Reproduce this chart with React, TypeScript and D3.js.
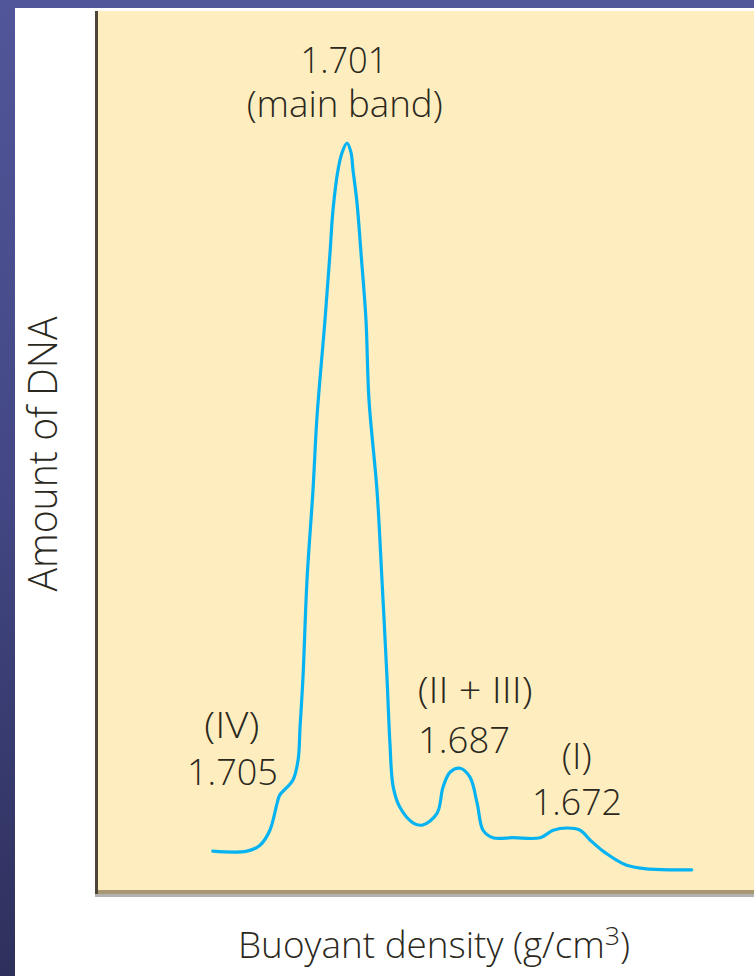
import React from "react";
import * as d3 from "d3";

// Densitometer trace: position along the gradient (arbitrary units, left = heavier) vs amount of DNA (relative)
const gradientPos = [17.5, 22.7, 24.7, 26.2, 27.3, 27.7, 29.7, 30.5, 30.8, 31.25, 31.86, 32.77, 33.38, 34.6, 35.37, 35.82, 36.59, 37.2, 37.96, 38.57, 38.87, 39.48, 40.09, 40.85, 41.31, 42.53, 43.29, 44.05, 44.5, 45.0, 46.0, 48.0, 49.5, 51.7, 52.6, 53.7, 55.2, 56.7, 57.8, 58.7, 60.2, 63.3, 67.4, 69.4, 71.5, 73.5, 75.0, 77.3, 80.6, 84.1, 90.5];
const dnaAmount = [5.2, 5.2, 6.0, 8.0, 11.6, 12.7, 14.7, 17.4, 21.8, 28.5, 41.5, 53.5, 63.3, 76.3, 85.3, 91.0, 96.4, 98.7, 100, 98.7, 96.4, 92.0, 85.3, 76.3, 65.6, 53.5, 41.5, 28.5, 19.7, 13.8, 11.1, 9.0, 8.7, 10.3, 13.8, 15.8, 16.3, 15.1, 11.6, 8.0, 7.0, 7.0, 7.0, 8.0, 8.3, 8.0, 6.7, 5.0, 3.3, 2.8, 2.7];

// Band annotations
const annLabels = ["1.701", "(main band)", "(IV)", "1.705", "(II + III)", "1.687", "(I)", "1.672"];
const annX = [37.5, 37.6, 20.4, 20.5, 57.5, 55.8, 73.0, 73.0];
const annY = [109.4, 103.5, 20.3, 14.1, 25.0, 18.3, 16.2, 10.0];
const annWidth = [87, 196, 55, 91, 115, 92, 30, 90];

const xTitle = "Buoyant density (g/cm";
const xTitleSup = "3";
const yTitle = "Amount of DNA";

const W = 754;
const H = 976;
const panel = { left: 98, top: 11, right: 754, bottom: 890 };

export default function App() {
  const x = d3.scaleLinear().domain([0, 100]).range([panel.left, panel.left + 656]);
  const y = d3.scaleLinear().domain([0, 100]).range([panel.bottom, 143]);
  const pts: [number, number][] = gradientPos.map((g, i) => [g, dnaAmount[i]]);
  const line = d3
    .line<[number, number]>()
    .x((d) => x(d[0]))
    .y((d) => y(d[1]))
    .curve(d3.curveCatmullRom.alpha(0.5));
  const font = "'Open Sans', 'Liberation Sans', Arial, sans-serif";
  const textColor = "#2a2820";

  return (
    <svg
      width={W}
      height={H}
      style={{ position: "absolute", left: 0, top: 0, display: "block" }}
      xmlns="http://www.w3.org/2000/svg"
    >
      <defs>
        <linearGradient id="edge" x1="0" y1="0" x2="0" y2="1">
          <stop offset="0" stopColor="#505699" />
          <stop offset="0.5" stopColor="#434784" />
          <stop offset="1" stopColor="#2e305c" />
        </linearGradient>
      </defs>
      <rect x={0} y={0} width={W} height={H} fill="#ffffff" />
      <rect x={0} y={0} width={W} height={8} fill="#505699" />
      <rect x={0} y={0} width={15} height={H} fill="url(#edge)" />

      {/* panel */}
      <rect x={95} y={894} width={W - 95} height={3} fill="#b2b2b2" />
      <rect x={panel.left} y={panel.top} width={W - panel.left} height={panel.bottom - panel.top} fill="#feedbe" />
      <rect x={panel.left} y={890} width={W - panel.left} height={4} fill="#a89775" />
      <rect x={95} y={panel.top} width={3} height={894 - panel.top} fill="#4d4535" />

      <path d={line(pts) || ""} fill="none" stroke="#05b3f2" strokeWidth={3.2} strokeLinejoin="round" strokeLinecap="round" />

      {annLabels.map((t, i) => (
        <text
          key={i}
          x={x(annX[i])}
          y={y(annY[i])}
          textAnchor="middle"
          fontFamily={font}
          fontWeight={300}
          fontSize={37}
          fill={textColor}
          textLength={annWidth[i]}
          lengthAdjust="spacingAndGlyphs"
        >
          {t}
        </text>
      ))}

      <text
        x={238}
        y={958}
        fontFamily={font}
        fontWeight={300}
        fontSize={36}
        fill={textColor}
        textLength={392}
        lengthAdjust="spacingAndGlyphs"
      >
        {xTitle}
        <tspan fontSize={26} dy={-13}>{xTitleSup}</tspan>
        <tspan dy={13}>)</tspan>
      </text>

      <text
        transform="translate(57,454) rotate(-90)"
        textAnchor="middle"
        fontFamily={font}
        fontWeight={300}
        fontSize={40}
        fill={textColor}
        textLength={275}
        lengthAdjust="spacingAndGlyphs"
      >
        {yTitle}
      </text>
    </svg>
  );
}
